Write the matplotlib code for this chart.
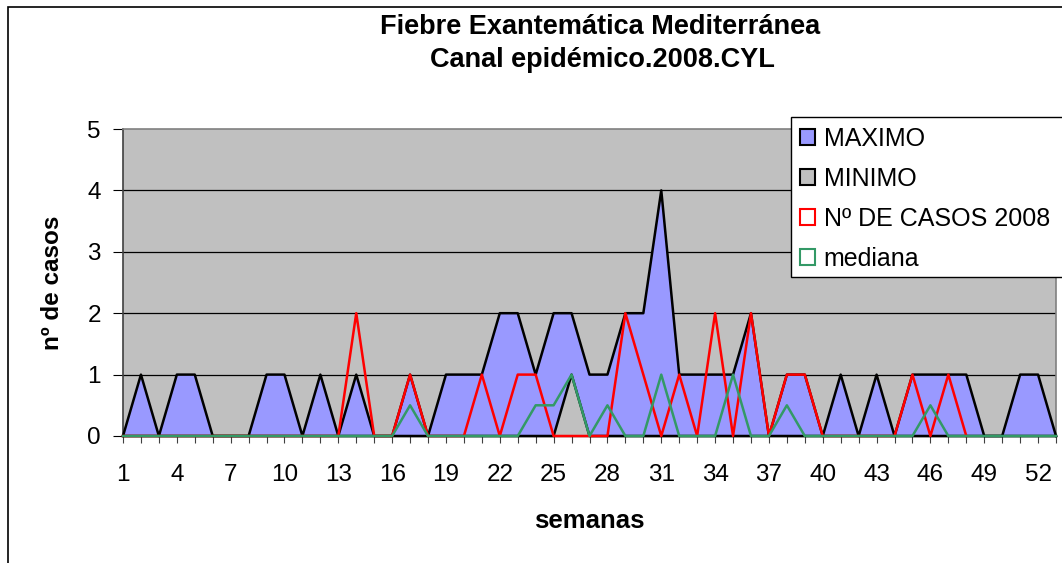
import matplotlib
matplotlib.use("Agg")
import matplotlib.pyplot as plt
from matplotlib.patches import Patch, Rectangle
import numpy as np

plt.rcParams['font.family'] = ['Liberation Sans', 'DejaVu Sans']

weeks = list(range(1, 54))
maximo = [0, 1, 0, 1, 1, 0, 0, 0, 1, 1, 0, 1, 0, 1, 0, 0, 1, 0, 1, 1,
          1, 2, 2, 1, 2, 2, 1, 1, 2, 2, 4, 1, 1, 1, 1, 2, 0, 1, 1, 0,
          1, 0, 1, 0, 1, 1, 1, 1, 0, 0, 1, 1, 0]
minimo = [0] * 25 + [1] + [0] * 27
casos_2008 = [0, 0, 0, 0, 0, 0, 0, 0, 0, 0, 0, 0, 0, 2, 0, 0, 1, 0, 0, 0,
              1, 0, 1, 1, 0, 0, 0, 0, 2, 1, 0, 1, 0, 2, 0, 2, 0, 1, 1, 0,
              0, 0, 0, 0, 1, 0, 1, 0]
mediana = [0, 0, 0, 0, 0, 0, 0, 0, 0, 0, 0, 0, 0, 0, 0, 0, 0.5, 0, 0, 0,
           0, 0, 0, 0.5, 0.5, 1, 0, 0.5, 0, 0, 1, 0, 0, 0, 1, 0, 0, 0.5, 0, 0,
           0, 0, 0, 0, 0, 0.5, 0, 0, 0, 0, 0, 0, 0]
xtick_labels = [str(w) for w in range(1, 53, 3)]

title_line1 = "Fiebre Exantemática Mediterránea"
title_line2 = "Canal epidémico.2008.CYL"
legend_labels = ["MAXIMO", "MINIMO", "Nº DE CASOS 2008", "mediana"]

W, H = 1062, 563
fig = plt.figure(figsize=(W / 100, H / 100), dpi=100)
fig.patch.set_facecolor("white")

# outer chart border (extends past the crop on right/bottom)
fig.patches.append(Rectangle((8 / W, -0.05), 1.1, 1 - 7 / H + 0.05,
                             transform=fig.transFigure, fill=False,
                             edgecolor="black", linewidth=1.2, clip_on=False))

l, r, t, b = 123, 1056, 129, 436
ax = fig.add_axes([l / W, 1 - b / H, (r - l) / W, (b - t) / H])
ax.set_facecolor("#C0C0C0")

wk = np.array(weeks)
LW = 1.8
ax.fill_between(wk, 0, maximo, facecolor="#9999FF", edgecolor="none", zorder=2)
ax.plot(wk, maximo, color="black", lw=LW, zorder=3, clip_on=False)
ax.fill_between(wk, 0, minimo, facecolor="#C0C0C0", edgecolor="none", zorder=4)
ax.plot(wk, minimo, color="black", lw=LW, zorder=5, clip_on=False)
ax.plot(wk[:len(casos_2008)], casos_2008, color="#FF0000", lw=LW, zorder=6,
        clip_on=False)
ax.plot(wk, mediana, color="#339966", lw=LW, zorder=7, clip_on=False)

ax.set_xlim(1, 53)
ax.set_ylim(0, 5)
ax.set_yticks([0, 1, 2, 3, 4, 5])
for yv in [1, 2, 3, 4]:
    ax.axhline(yv, color="black", lw=0.9, zorder=1)

ax.set_xticks(wk, minor=True)
ax.set_xticks(range(1, 53, 3))
ax.set_xticklabels(xtick_labels)
ax.tick_params(axis="x", which="both", direction="out", length=5, width=0.8,
               color="#404040")
ax.tick_params(axis="x", which="major", labelsize=17.5, pad=15)
ax.tick_params(axis="y", direction="out", length=7, width=0.8,
               color="black", labelsize=17.5, pad=9)

for s in ["top", "right"]:
    ax.spines[s].set_color("#808080")
    ax.spines[s].set_linewidth(1.2)
ax.spines["left"].set_color("#404040")
ax.spines["left"].set_linewidth(1.2)
ax.spines["bottom"].set_color("black")
ax.spines["bottom"].set_linewidth(1.0)

ax.set_xlabel("semanas", fontsize=18.5, fontweight="bold", labelpad=16.5)
ax.set_ylabel("nº de casos", fontsize=17.5, fontweight="bold", labelpad=17)

fig.text(600 / W, 1 - 34 / H, title_line1, ha="center", va="baseline",
         fontsize=19.5, fontweight="bold")
fig.text(602 / W, 1 - 67 / H, title_line2, ha="center", va="baseline",
         fontsize=19.5, fontweight="bold")

# legend box (extends past the right edge like the reference)
fig.patches.append(Rectangle((791 / W, 1 - 277 / H), 0.3, 160 / H,
                             transform=fig.transFigure, facecolor="white",
                             edgecolor="black", linewidth=1.0, clip_on=False,
                             zorder=10))

handles = [
    Patch(facecolor="#9999FF", edgecolor="black", lw=1.5),
    Patch(facecolor="#C0C0C0", edgecolor="black", lw=1.5),
    Patch(facecolor="white", edgecolor="#FF0000", lw=1.5),
    Patch(facecolor="white", edgecolor="#339966", lw=1.5),
]
leg = fig.legend(handles, legend_labels, loc="upper left",
                 bbox_to_anchor=(800 / W, 1 - 127 / H),
                 fontsize=18, frameon=False,
                 handlelength=0.6, handleheight=0.6, handletextpad=0.35,
                 labelspacing=0.64, borderpad=0, borderaxespad=0)
leg.set_zorder(11)

fig.savefig("out.png", dpi=100, facecolor="white")
